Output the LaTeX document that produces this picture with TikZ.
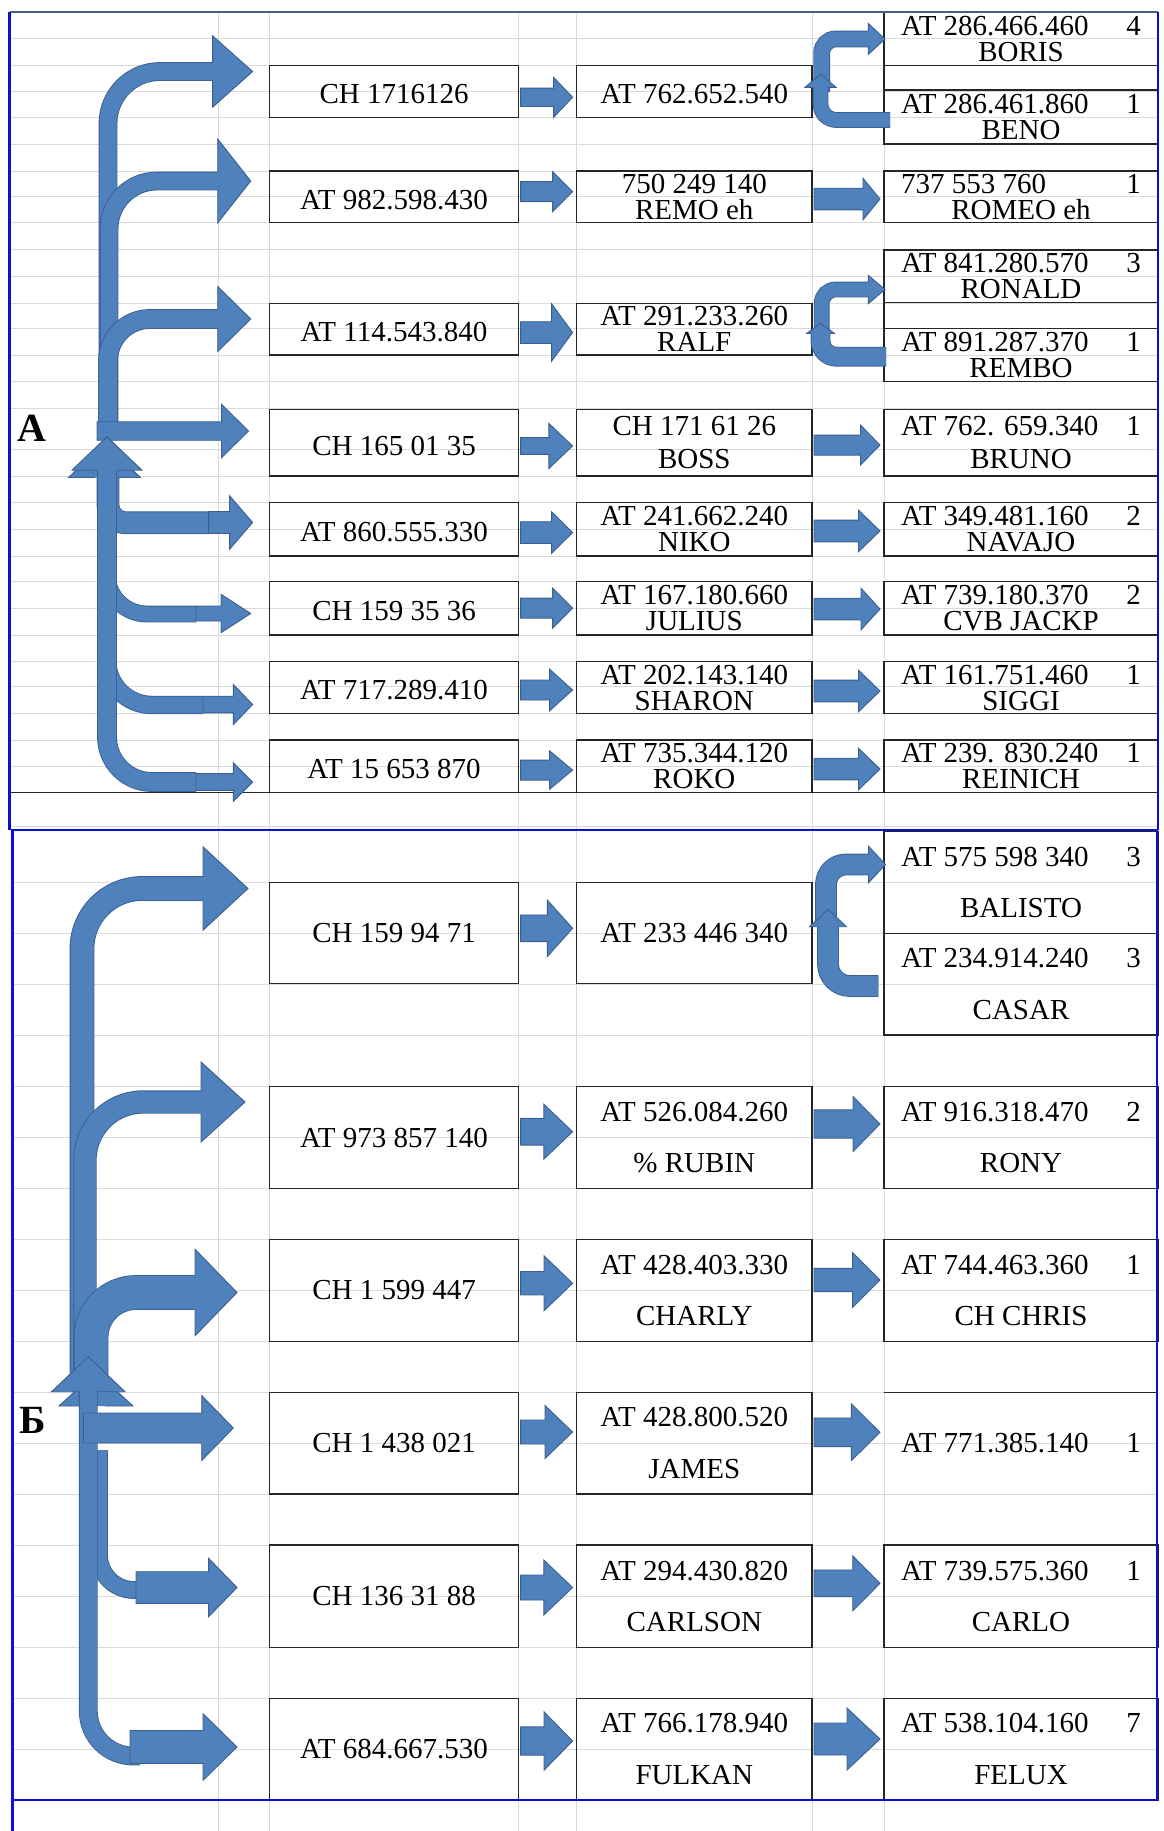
\documentclass[tikz,border=0pt]{standalone}
\usepackage{fontspec}
\setmainfont{Liberation Serif}
\usetikzlibrary{calc}

\definecolor{arrowfill}{HTML}{4F81BD}
\definecolor{arrowedge}{HTML}{3A5F8F}
\definecolor{gridgrey}{HTML}{DADADA}
\definecolor{frameblue}{HTML}{0A10D0}
\definecolor{frametop}{HTML}{45608A}
\definecolor{boxline}{HTML}{262626}

\newcommand{\cola}{394.05}
\newcommand{\colb}{694.3}
\newcommand{\colc}{1021}
\newcommand{\fonta}{\fontsize{29}{26}\selectfont}
\newcommand{\fontb}{\fontsize{29}{51.5}\selectfont}
\newcommand{\numline}[2]{\makebox[240pt]{#1\hfill#2}}

\tikzset{
  cell/.style={draw=boxline, line width=1.2pt, inner sep=0pt, outer sep=0pt, align=center},
  cola/.style={cell, minimum width=249.1pt},
  colb/.style={cell, minimum width=235.4pt},
  colc/.style={cell, minimum width=274pt},
  rowa/.style={minimum height=#1pt, font=\fonta, execute at begin node={\rule{0pt}{25pt}}},
  rowb/.style={minimum height=#1pt, font=\fontb},
  tableline/.style={draw=boxline, line width=1.2pt},
  shaft/.style={draw=arrowedge, line width=0.9pt, double=arrowfill, double distance=#1pt},
  arrowpaint/.style={fill=arrowfill, draw=arrowedge, line width=0.9pt},
  arrowline/.style={draw=arrowedge, line width=0.9pt},
  gridline/.style={draw=gridgrey, line width=1pt},
  framerule/.style={draw=frameblue, line width=2.8pt},
  tag/.style={font=\fontsize{40}{40}\selectfont\bfseries}
}

% block arrow between two boxes: from, to, shift down, shaft, half head, head length
\newcommand{\linkarrow}[6]{%
  \filldraw[arrowpaint] let \p1=(#1.east), \p2=(#2.west) in
    ({\x1+2},{\y2-(#3)+#4/2}) -- ({\x2-4-#6},{\y2-(#3)+#4/2})
    -- ({\x2-4-#6},{\y2-(#3)+#5}) -- ({\x2-4},{\y2-(#3)})
    -- ({\x2-4-#6},{\y2-(#3)-#5}) -- ({\x2-4-#6},{\y2-(#3)-#4/2})
    -- ({\x1+2},{\y2-(#3)-#4/2}) -- cycle;}
% straight block arrow: tail, tip, shaft, half head, head length
\newcommand{\blockarrow}[5]{%
  \filldraw[arrowpaint] let \p1=(#1), \p2=(#2) in
    (\x1,\y2+#3/2) -- (\x2-#5,\y2+#3/2) -- (\x2-#5,\y2+#4) -- (\p2)
    -- (\x2-#5,\y2-#4) -- (\x2-#5,\y2-#3/2) -- (\x1,\y2-#3/2) -- cycle;}
% heads: tip, shaft, half head, length
\newcommand{\headright}[4]{%
  \fill[arrowfill] let \p1=(#1) in (\p1) -- (\x1-#4,\y1+#3) -- (\x1-#4,\y1-#3) -- cycle;
  \draw[arrowline] let \p1=(#1) in (\x1-#4,\y1+#2/2+0.45) -- (\x1-#4,\y1+#3)
    -- (\p1) -- (\x1-#4,\y1-#3) -- (\x1-#4,\y1-#2/2-0.45);}
\newcommand{\headup}[4]{%
  \fill[arrowfill] let \p1=(#1) in (\p1) -- (\x1-#3,\y1-#4) -- (\x1+#3,\y1-#4) -- cycle;
  \draw[arrowline] let \p1=(#1) in (\x1-#2/2-0.45,\y1-#4) -- (\x1-#3,\y1-#4)
    -- (\p1) -- (\x1+#3,\y1-#4) -- (\x1+#2/2+0.45,\y1-#4);}
% bent arrows: start, tip, shaft, radius, half head, head length
\newcommand{\bentright}[6]{%
  \draw[shaft=#3, rounded corners=#4pt] let \p1=(#1), \p2=(#2) in
    (\p1) |- (\x2-#6+1,\y2);
  \headright{#2}{#3}{#5}{#6}}
\newcommand{\bentup}[6]{%
  \draw[shaft=#3, rounded corners=#4pt] let \p1=(#1), \p2=(#2) in
    (\p1) -| (\x2,\y2-#6+1);
  \headup{#2}{#3}{#5}{#6}}
\newcommand{\bentshaft}[4]{%
  \draw[shaft=#3, rounded corners=#4pt] (#1) |- (#2);}

\begin{document}
\begin{tikzpicture}[x=1pt, y=-1pt]
  \useasboundingbox (0,0) rectangle (1163,1831);

  % spreadsheet grid
  \foreach \y in {38.7,65.7,91,117.3,144,171,196.8,222.7,249.3,276.3,303.3,328.3,
      355,381.7,408.3,449.3,476,502.7,529.3,556,581.3,608.3,635,661.7,686.7,
      713.3,740,766.7,826}
    \draw[gridline] (9.6,\y) -- (1158,\y);
  \foreach \k in {1,...,18}
    \draw[gridline] (12.6,{831.7+50.96*\k}) -- (1157,{831.7+50.96*\k});
  \foreach \x in {218,269.5,518.6,576.6,812,884}
    \draw[gridline] (\x,11.7) -- (\x,1831);

  % section A
  \node[cola, rowa=51.6] (a1) at (\cola,91.5) {CH 1716126};
  \node[cola, rowa=51.7] (a2) at (\cola,196.85) {AT 982.598.430};
  \node[cola, rowa=51.7] (a3) at (\cola,329.2) {AT 114.543.840};
  \node[cola, rowa=66.7] (a4) at (\cola,442.65) {CH 165 01 35};
  \node[cola, rowa=53.3] (a5) at (\cola,529.35) {AT 860.555.330};
  \node[cola, rowa=53.7] (a6) at (\cola,608.15) {CH 159 35 36};
  \node[cola, rowa=51.6] (a7) at (\cola,687.5) {AT 717.289.410};
  \node[cola, rowa=52.3] (a8) at (\cola,766.15) {AT 15 653 870};

  \node[colb, rowa=51.6] (a1b) at (\colb,91.5) {AT 762.652.540};
  \node[colb, rowa=51.7] (a2b) at (\colb,196.85) {750 249 140\\REMO eh};
  \node[colb, rowa=51.7] (a3b) at (\colb,329.2) {AT 291.233.260\\RALF};
  \node[colb, rowa=66.7] (a4b) at (\colb,442.65) {CH 171 61 26\\[7pt]BOSS};
  \node[colb, rowa=53.3] (a5b) at (\colb,529.35) {AT 241.662.240\\NIKO};
  \node[colb, rowa=53.7] (a6b) at (\colb,608.15) {AT 167.180.660\\JULIUS};
  \node[colb, rowa=51.6] (a7b) at (\colb,687.5) {AT 202.143.140\\SHARON};
  \node[colb, rowa=52.3] (a8b) at (\colb,766.15) {AT 735.344.120\\ROKO};

  \node[colc, rowa=53.3] (a1c) at (\colc,38.85) {\numline{AT 286.466.460}{4}\\BORIS};
  \node[colc, rowa=54] (a1d) at (\colc,117) {\numline{AT 286.461.860}{1}\\BENO};
  \node[colc, rowa=51.7] (a2c) at (\colc,196.85) {\numline{737 553 760}{1}\\ROMEO eh};
  \node[colc, rowa=52.7] (a3c) at (\colc,276.35) {\numline{AT 841.280.570}{3}\\RONALD};
  \node[colc, rowa=53.4] (a3d) at (\colc,355) {\numline{AT 891.287.370}{1}\\REMBO};
  \node[colc, rowa=66.7] (a4c) at (\colc,442.65) {\numline{AT 762. 659.340}{1}\\[7pt]BRUNO};
  \node[colc, rowa=53.3] (a5c) at (\colc,529.35) {\numline{AT 349.481.160}{2}\\NAVAJO};
  \node[colc, rowa=53.7] (a6c) at (\colc,608.15) {\numline{AT 739.180.370}{2}\\CVB JACKP};
  \node[colc, rowa=51.6] (a7c) at (\colc,687.5) {\numline{AT 161.751.460}{1}\\SIGGI};
  \node[colc, rowa=52.3] (a8c) at (\colc,766.15) {\numline{AT 239. 830.240}{1}\\REINICH};
  \draw[tableline] (a1c.south west) -- (a1d.north west);
  \draw[tableline] (a3c.south west) -- (a3d.north west);
  \draw[tableline] (9.6,792.3) -- (1158,792.3);

  % section B
  \node[cola, rowb=101.4] (b1) at (\cola,933) {CH 159 94 71};
  \node[cola, rowb=101.6] (b2) at (\cola,1137.5) {AT 973 857 140};
  \node[cola, rowb=102.4] (b3) at (\cola,1290.5) {CH 1 599 447};
  \node[cola, rowb=101.7] (b4) at (\cola,1443.2) {CH 1 438 021};
  \node[cola, rowb=102.7] (b5) at (\cola,1596.3) {CH 136 31 88};
  \node[cola, rowb=101.7] (b6) at (\cola,1749.2) {AT 684.667.530};

  \node[colb, rowb=101.4] (b1b) at (\colb,933) {AT 233 446 340};
  \node[colb, rowb=101.6] (b2b) at (\colb,1137.5) {AT 526.084.260\\\% RUBIN};
  \node[colb, rowb=102.4] (b3b) at (\colb,1290.5) {AT 428.403.330\\CHARLY};
  \node[colb, rowb=101.7] (b4b) at (\colb,1443.2) {AT 428.800.520\\JAMES};
  \node[colb, rowb=102.7] (b5b) at (\colb,1596.3) {AT 294.430.820\\CARLSON};
  \node[colb, rowb=101.7] (b6b) at (\colb,1749.2) {AT 766.178.940\\FULKAN};

  \node[colc, rowb=101.6] (b1c) at (\colc,882.5) {\numline{AT 575 598 340}{3}\\BALISTO};
  \node[colc, rowb=101.7] (b1d) at (\colc,984.15) {\numline{AT 234.914.240}{3}\\CASAR};
  \node[colc, rowb=101.6] (b2c) at (\colc,1137.5) {\numline{AT 916.318.470}{2}\\RONY};
  \node[colc, rowb=102.4] (b3c) at (\colc,1290.5) {\numline{AT 744.463.360}{1}\\CH CHRIS};
  \node[colc, rowb=101.7, draw=none] (b4c) at (\colc,1443.2) {\numline{AT 771.385.140}{1}};
  \node[colc, rowb=102.7] (b5c) at (\colc,1596.3) {\numline{AT 739.575.360}{1}\\CARLO};
  \node[colc, rowb=101.7] (b6c) at (\colc,1749.2) {\numline{AT 538.104.160}{7}\\FELUX};
  \draw[tableline] (b4c.north west) -- (b4c.north east);

  % trunk points and arrow tips
  \foreach \n/\x/\y in {sA1/108/425, tA1/252.6/71.5, sA2/109/425, tA2/250.7/181,
      sA3/108/425, tA3/250.7/319, sA4/97/431, tA4/248.5/431,
      sA5/108/478, eA5/208.6/522.8, tA5/252.6/522.5,
      sA6/107/570, eA6/196/614, tA6/250.7/613.5,
      sA7/107/655, eA7/203/705, tA7/252.6/704.5,
      eA8/196/782, tA8/252.6/782, tA0/107/436.7, tA0b/104.5/443.5,
      sA1u/821.7/92, tA1u/885/39, sA1l/890/120, tA1l/820.5/74,
      sA3u/821.7/330, tA3u/885/289.5, sA3l/886/356.7, tA3l/820.5/323.3,
      sB1/82/1380, tB1/248/888.5, sB2/85/1380, tB2/245/1102,
      sB3/91/1380, tB3/237/1292.5, sB4/83.3/1428, tB4/233.3/1428,
      sB5/99/1450, eB5/140/1590, cB5/136/1589, tB5/237/1587.5,
      eB6/140/1756, cB6/130/1748, tB6/237/1747, tB0/88.3/1356.7, tB0b/96/1372,
      sB1u/826/925, tB1u/885.5/864.5, sB1l/878.4/986, tB1l/828/909.3}
    \coordinate (\n) at (\x,\y);

  % fan of arrows, section A
  \bentright{sA1}{tA1}{17}{52}{35.7}{40}
  \bentright{sA2}{tA2}{17}{48}{42}{33}
  \bentright{sA3}{tA3}{18}{42}{32.5}{33}
  \bentshaft{sA5}{eA5}{21}{18}
  \bentshaft{sA6}{eA6}{15}{40}
  \bentshaft{sA7}{eA7}{16.6}{45}
  \blockarrow{sA4}{tA4}{18.5}{26.7}{27}
  \headup{tA0b}{18}{36}{34}
  \bentup{eA8}{tA0}{18}{45}{35}{33.5}
  \blockarrow{eA5}{tA5}{22}{26.7}{23}
  \blockarrow{eA6}{tA6}{15}{19.2}{29.7}
  \blockarrow{eA7}{tA7}{16.6}{20}{19.2}
  \blockarrow{eA8}{tA8}{16.7}{19.2}{19.2}

  % fan of arrows, section B
  \bentright{sB1}{tB1}{23}{60}{41.7}{45}
  \bentright{sB2}{tB2}{21.5}{58}{40}{44}
  \bentright{sB3}{tB3}{33}{45}{43.3}{42}
  \bentshaft{sB5}{eB5}{16}{35}
  \headup{tB0b}{17}{37}{34}
  \bentup{eB6}{tB0}{17}{45}{36.7}{35}
  \blockarrow{sB4}{tB4}{30}{32.5}{31.6}
  \blockarrow{cB5}{tB5}{31.6}{29.2}{28.4}
  \blockarrow{cB6}{tB6}{33}{33.3}{34}

  % split arrows to the last column
  \bentright{sA1u}{tA1u}{15}{14}{15.5}{16.7}
  \bentup{sA1l}{tA1l}{14}{16}{15.5}{13.3}
  \bentright{sA3u}{tA3u}{14}{14}{14.2}{16.7}
  \bentup{sA3l}{tA3l}{18}{16}{13.7}{10}
  \bentright{sB1u}{tB1u}{20}{20}{18.3}{17}
  \bentup{sB1l}{tB1l}{20}{22}{18.5}{17.4}

  % box to box arrows
  \linkarrow{a1}{a1b}{5.8}{18.3}{20}{19}
  \linkarrow{a2}{a2b}{-5.2}{20}{20}{20}
  \linkarrow{a3}{a3b}{3.3}{21.6}{28.7}{21}
  \linkarrow{a4}{a4b}{3.3}{16.7}{22.5}{23.7}
  \linkarrow{a5}{a5b}{3.2}{21.7}{20.8}{21}
  \linkarrow{a6}{a6b}{0}{20}{20}{20}
  \linkarrow{a7}{a7b}{2.5}{20}{20.8}{23}
  \linkarrow{a8}{a8b}{3.9}{20}{19.2}{23}
  \linkarrow{a2b}{a2c}{2.2}{21.7}{20.8}{17}
  \linkarrow{a4b}{a4c}{2.4}{20}{20}{19.5}
  \linkarrow{a5b}{a5c}{1.6}{21.7}{20.8}{21.5}
  \linkarrow{a6b}{a6c}{0.9}{21.7}{20.8}{19}
  \linkarrow{a7b}{a7c}{3.5}{21.7}{20.8}{21.5}
  \linkarrow{a8b}{a8c}{2.9}{21.7}{20.8}{21.5}

  \linkarrow{b1}{b1b}{-4.7}{26.7}{28.3}{25.3}
  \linkarrow{b2}{b2b}{-5.8}{26.7}{27.5}{28.8}
  \linkarrow{b3}{b3b}{-7.2}{23.3}{27.5}{28.6}
  \linkarrow{b4}{b4b}{-11.2}{24}{26.5}{27.6}
  \linkarrow{b5}{b5b}{-8.8}{25}{27.5}{28.8}
  \linkarrow{b6}{b6b}{-8.2}{28.3}{29.2}{28.6}
  \linkarrow{b2b}{b2c}{-13.5}{28.3}{27.5}{27}
  \linkarrow{b3b}{b3c}{-10.5}{23.3}{27.5}{27.5}
  \linkarrow{b4b}{b4c}{-10.9}{28.7}{28.3}{28.6}
  \linkarrow{b5b}{b5c}{-13}{26.7}{27.5}{27.3}
  \linkarrow{b6b}{b6c}{-10.2}{32}{31}{33}

  % section labels
  \node[tag] (labA) at (31.5,428) {А};
  \node[tag] (labB) at (32.5,1420) {Б};

  % frames
  \draw[framerule, draw=frametop, line width=2pt] (9.6,11.7) -- (1158,11.7);
  \draw[framerule] (9.6,11.7) -- (9.6,830);
  \draw[framerule] (1158,11.7) -- (1158,830);
  \draw[framerule] (12.6,1831) -- (12.6,830) -- (1157,830) -- (1157,1800) -- (12.6,1800);
\end{tikzpicture}
\end{document}
